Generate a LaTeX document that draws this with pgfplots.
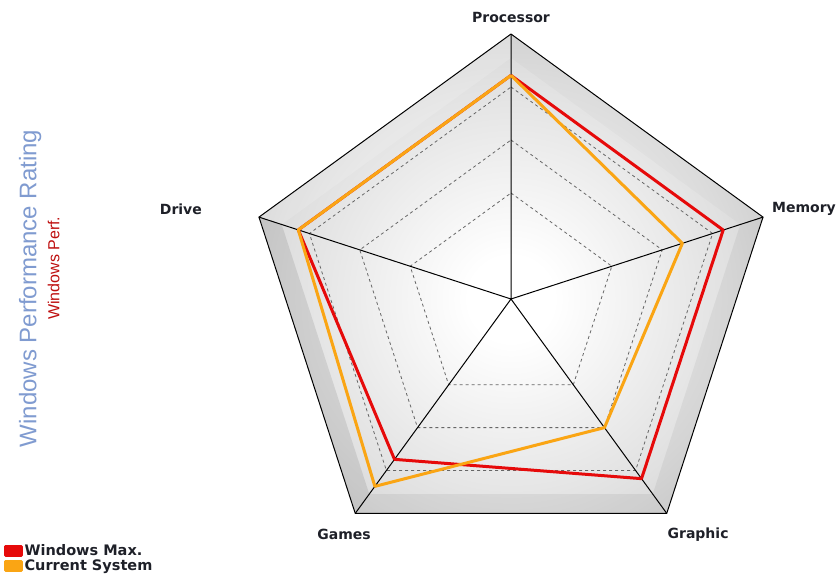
\documentclass[border=0pt]{standalone}
\usepackage{fontspec}
\setmainfont{Liberation Sans}
\newfontfamily\lblfont{DejaVu Sans}
\usepackage{pgfplots}
\pgfplotsset{compat=1.18}

\definecolor{wmred}{RGB}{230,10,10}
\definecolor{csorange}{RGB}{250,165,20}
\definecolor{titleblue}{RGB}{128,155,208}
\definecolor{titlered}{RGB}{190,15,15}
\definecolor{lbl}{RGB}{30,32,40}

% white centre, grey rim (the circle's radius maps to 25bp)
\pgfdeclareradialshading{webbg}{\pgfpoint{0bp}{0bp}}{%
  color(0bp)=(white); color(4bp)=(white); color(16bp)=(gray!17); color(21bp)=(gray!24); color(25bp)=(gray!31); color(50bp)=(gray!31)}

\begin{document}
\begin{tikzpicture}
\begin{axis}[
    x=53pt, y=53pt,
    xmin=-9.642, xmax=6.208,
    ymin=-5.358, ymax=5.642,
    hide axis,
    clip=false,
    legend style={at={(rel axis cs:0.005,0.068)}, anchor=north west,
        draw=none, fill=none, inner sep=0pt, row sep=0pt,
        font=\lblfont\bfseries\fontsize{14.5}{15}\selectfont, text=lbl,
        nodes={inner sep=1.2pt}},
    legend cell align=left,
    legend image code/.code={\fill[#1] (0pt,-4.5pt) rectangle (16pt,4.5pt);},
]
    \path (rel axis cs:0,0) rectangle (rel axis cs:1,1);

    % web background
    \begin{scope}
    \clip (axis cs:0,5) -- (axis cs:4.755,1.545) -- (axis cs:2.939,-4.045)
        -- (axis cs:-2.939,-4.045) -- (axis cs:-4.755,1.545) -- cycle;
    \shade[shading=webbg] (axis cs:0,0) circle[radius=265pt];
    \end{scope}
    % bevel along the rim
    \fill[black, opacity=0.02] (axis cs:0,5) -- (axis cs:4.755,1.545) -- (axis cs:4.327,1.406) -- (axis cs:0,4.55) -- cycle;
    \fill[black, opacity=0.05] (axis cs:4.755,1.545) -- (axis cs:2.939,-4.045) -- (axis cs:2.674,-3.681) -- (axis cs:4.327,1.406) -- cycle;
    \fill[black, opacity=0.06] (axis cs:2.939,-4.045) -- (axis cs:-2.939,-4.045) -- (axis cs:-2.674,-3.681) -- (axis cs:2.674,-3.681) -- cycle;
    \fill[black, opacity=0.09] (axis cs:-2.939,-4.045) -- (axis cs:-4.755,1.545) -- (axis cs:-4.327,1.406) -- (axis cs:-2.674,-3.681) -- cycle;
    \fill[white, opacity=0.15] (axis cs:-4.755,1.545) -- (axis cs:0,5) -- (axis cs:0,4.55) -- (axis cs:-4.327,1.406) -- cycle;

    % dashed rings
    \addplot[gray!80!black, dashed, line width=0.8pt, data cs=polar, forget plot]
        coordinates {(90,2) (18,2) (-54,2) (-126,2) (162,2) (90,2)};
    \addplot[gray!80!black, dashed, line width=0.8pt, data cs=polar, forget plot]
        coordinates {(90,3) (18,3) (-54,3) (-126,3) (162,3) (90,3)};
    \addplot[gray!80!black, dashed, line width=0.8pt, data cs=polar, forget plot]
        coordinates {(90,4) (18,4) (-54,4) (-126,4) (162,4) (90,4)};

    % spokes and rim
    \addplot[black, line width=1pt, data cs=polar, forget plot]
        coordinates {(90,5) (0,0) (18,5) (0,0) (-54,5) (0,0) (-126,5) (0,0) (162,5)};
    \addplot[black, line width=1pt, data cs=polar, forget plot]
        coordinates {(90,5) (18,5) (-54,5) (-126,5) (162,5) (90,5)};

    % Windows Max.
    \addplot[color=wmred, line width=3pt, line join=round, data cs=polar]
        coordinates {(90,4.22) (18,4.21) (-54,4.19) (-126,3.74) (162,4.22) (90,4.22)};
    % Current System
    \addplot[color=csorange, line width=3pt, line join=round, data cs=polar]
        coordinates {(90,4.22) (18,3.40) (-54,3.00) (-126,4.37) (162,4.22) (90,4.22)};
    \legend{Windows Max., Current System}

    % category labels
    \begin{scope}[every node/.style={font=\lblfont\bfseries\fontsize{14}{16}\selectfont, text=lbl, inner sep=0pt}]
    \node at (axis cs:0,5.32) {Processor};
    \node[anchor=west] at (axis cs:4.925,1.70) {Memory};
    \node[anchor=east] at (axis cs:-5.83,1.70) {Drive};
    \node at (axis cs:-3.15,-4.45) {Games};
    \node at (axis cs:3.53,-4.45) {Graphic};
    \end{scope}

    % titles
    \node[rotate=90, text=titleblue, font=\fontsize{24}{26}\selectfont, inner sep=0pt]
        at (rel axis cs:0.036,0.505) {Windows Performance Rating};
    \node[rotate=90, text=titlered, font=\fontsize{16}{18}\selectfont, inner sep=0pt]
        at (rel axis cs:0.064,0.54) {Windows Perf.};
\end{axis}
\end{tikzpicture}
\end{document}
